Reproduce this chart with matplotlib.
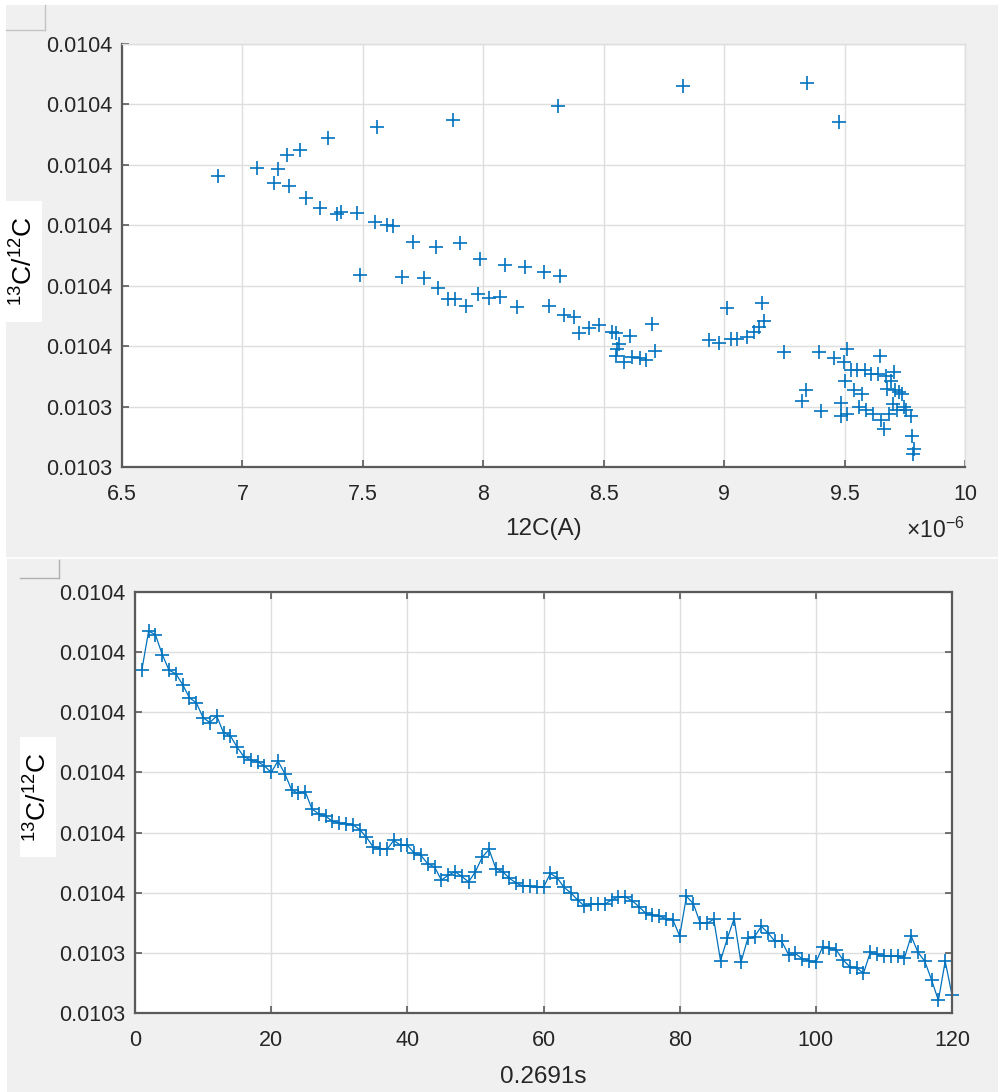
import numpy as np
import matplotlib
matplotlib.use("Agg")
import matplotlib.pyplot as plt
from matplotlib.lines import Line2D
from matplotlib.patches import Rectangle

plt.rcParams['font.family'] = ['Liberation Sans', 'DejaVu Sans']
plt.rcParams['mathtext.fontset'] = 'custom'
plt.rcParams['mathtext.rm'] = 'Liberation Sans'
plt.rcParams['mathtext.it'] = 'Liberation Sans:italic'
plt.rcParams['mathtext.bf'] = 'Liberation Sans:bold'

# ---------------- data ----------------
# top panel: 12C current (x1e-6 A) vs 13C/12C ratio
c12_current = [
    6.900, 7.062, 7.146, 7.132, 7.183, 7.238, 7.194, 7.356, 7.266, 7.322,
    7.391, 7.409, 7.474, 7.560, 7.550, 7.599, 7.627, 7.488, 7.707, 7.804,
    7.904, 7.876, 7.661, 7.755, 7.811, 7.855, 7.883, 7.929, 7.987, 7.977,
    8.022, 8.070, 8.091, 8.139, 8.174, 8.253, 8.320, 8.271, 8.334, 8.375,
    8.310, 8.396, 8.437, 8.479, 8.828, 9.345, 9.477, 8.535, 8.549, 8.562,
    8.555, 8.553, 8.583, 8.611, 8.618, 8.652, 8.677, 8.701, 8.715, 8.937,
    8.978, 9.010, 9.027, 9.054, 9.096, 9.124, 9.144, 9.158, 9.165, 9.248,
    9.339, 9.325, 9.394, 9.401, 9.456, 9.484, 9.484, 9.498, 9.509, 9.501,
    9.512, 9.526, 9.540, 9.553, 9.560, 9.574, 9.584, 9.588, 9.609, 9.616,
    9.637, 9.648, 9.650, 9.664, 9.671, 9.678, 9.685, 9.692, 9.699, 9.706,
    9.709, 9.717, 9.727, 9.740, 9.747, 9.754, 9.775, 9.778, 9.789, 9.786,
]
ratio_vs_current = [
    0.0103781, 0.0103795, 0.0103793, 0.0103770, 0.0103816, 0.0103825, 0.0103765, 0.0103845, 0.0103745, 0.0103728,
    0.0103719, 0.0103722, 0.0103721, 0.0103863, 0.0103706, 0.0103700, 0.0103699, 0.0103617, 0.0103673, 0.0103664,
    0.0103670, 0.0103874, 0.0103614, 0.0103612, 0.0103597, 0.0103578, 0.0103578, 0.0103566, 0.0103644, 0.0103587,
    0.0103579, 0.0103581, 0.0103634, 0.0103565, 0.0103631, 0.0103623, 0.0103616, 0.0103567, 0.0103551, 0.0103549,
    0.0103898, 0.0103522, 0.0103530, 0.0103535, 0.0103930, 0.0103936, 0.0103871, 0.0103523, 0.0103521, 0.0103504,
    0.0103495, 0.0103483, 0.0103473, 0.0103517, 0.0103482, 0.0103480, 0.0103477, 0.0103537, 0.0103492, 0.0103510,
    0.0103506, 0.0103563, 0.0103512, 0.0103512, 0.0103515, 0.0103523, 0.0103532, 0.0103571, 0.0103542, 0.0103490,
    0.0103427, 0.0103409, 0.0103490, 0.0103392, 0.0103480, 0.0103406, 0.0103384, 0.0103473, 0.0103495, 0.0103443,
    0.0103388, 0.0103460, 0.0103427, 0.0103461, 0.0103399, 0.0103421, 0.0103461, 0.0103394, 0.0103454, 0.0103388,
    0.0103454, 0.0103483, 0.0103377, 0.0103363, 0.0103451, 0.0103429, 0.0103388, 0.0103443, 0.0103405, 0.0103457,
    0.0103427, 0.0103394, 0.0103424, 0.0103421, 0.0103399, 0.0103394, 0.0103385, 0.0103352, 0.0103329, 0.0103322,
]

# bottom panel: ratio vs cycle index (0.2691 s per cycle)
cycle_index = list(range(1, 121))
ratio_vs_time = [
    0.0103870, 0.0103935, 0.0103929, 0.0103896, 0.0103870, 0.0103864, 0.0103846, 0.0103824, 0.0103816, 0.0103791,
    0.0103783, 0.0103794, 0.0103766, 0.0103761, 0.0103742, 0.0103726, 0.0103721, 0.0103718, 0.0103711, 0.0103700,
    0.0103719, 0.0103698, 0.0103671, 0.0103665, 0.0103668, 0.0103639, 0.0103631, 0.0103627, 0.0103619, 0.0103616,
    0.0103615, 0.0103613, 0.0103605, 0.0103592, 0.0103576, 0.0103573, 0.0103572, 0.0103587, 0.0103579, 0.0103579,
    0.0103566, 0.0103562, 0.0103548, 0.0103543, 0.0103521, 0.0103529, 0.0103535, 0.0103527, 0.0103518, 0.0103535,
    0.0103559, 0.0103572, 0.0103540, 0.0103535, 0.0103524, 0.0103516, 0.0103511, 0.0103511, 0.0103509, 0.0103509,
    0.0103532, 0.0103525, 0.0103509, 0.0103500, 0.0103488, 0.0103478, 0.0103481, 0.0103481, 0.0103481, 0.0103488,
    0.0103493, 0.0103493, 0.0103487, 0.0103477, 0.0103466, 0.0103463, 0.0103461, 0.0103457, 0.0103455, 0.0103428,
    0.0103494, 0.0103482, 0.0103450, 0.0103449, 0.0103456, 0.0103387, 0.0103424, 0.0103457, 0.0103384, 0.0103424,
    0.0103427, 0.0103444, 0.0103433, 0.0103419, 0.0103419, 0.0103397, 0.0103399, 0.0103390, 0.0103387, 0.0103384,
    0.0103410, 0.0103408, 0.0103405, 0.0103388, 0.0103377, 0.0103375, 0.0103366, 0.0103401, 0.0103398, 0.0103394,
    0.0103395, 0.0103395, 0.0103391, 0.0103428, 0.0103401, 0.0103386, 0.0103355, 0.0103321, 0.0103386, 0.0103330,
]

y_ticks = [0.01033, 0.01034, 0.01035, 0.01036, 0.01037, 0.01038, 0.01039, 0.01040]
y_tick_labels = ['0.0103', '0.0103', '0.0104', '0.0104', '0.0104', '0.0104', '0.0104', '0.0104']
x1_ticks = [6.5, 7, 7.5, 8, 8.5, 9, 9.5, 10]
x1_tick_labels = ['6.5', '7', '7.5', '8', '8.5', '9', '9.5', '10']
x2_ticks = [0, 20, 40, 60, 80, 100, 120]
x2_tick_labels = ['0', '20', '40', '60', '80', '100', '120']

# ---------------- figure ----------------
W, H = 998, 1092
fig = plt.figure(figsize=(W / 100, H / 100), dpi=100, facecolor='#f0f0f0')


def fx(px):
    return px / W


def fy(py):
    return 1 - py / H


def rect_px(x0, y0, x1, y1, color, z=0):
    fig.add_artist(Rectangle((fx(x0), fy(y1)), fx(x1) - fx(x0), fy(y0) - fy(y1),
                             transform=fig.transFigure, facecolor=color,
                             edgecolor='none', zorder=z))


def line_px(xs, ys, color, lw=1.0):
    fig.add_artist(Line2D([fx(v) for v in xs], [fy(v) for v in ys],
                          transform=fig.transFigure, color=color, lw=lw))


# window chrome
rect_px(0, 0, W, 5, 'white')
rect_px(0, 0, 6, 558, 'white')
rect_px(0, 558, 7, H, 'white')
line_px([0, W], [558, 558], 'white', 1.2)
line_px([45, 45], [5, 30], '#c4c4c4', 1.0)
line_px([6, 45], [30, 30], '#c4c4c4', 1.0)
line_px([59, 59], [560, 578], '#b0b0b0', 1.0)
line_px([20, 59], [578, 578], '#b0b0b0', 1.0)

ax1 = fig.add_axes([fx(122), fy(467), fx(965) - fx(122), fy(44) - fy(467)])
ax2 = fig.add_axes([fx(135), fy(1013), fx(952) - fx(135), fy(592) - fy(1013)])

blue = '#0072BD'
spine_c = '#5a5a5a'
grid_c = '#dedede'
label_c = '#262626'
tick_fs = 15.5
label_fs = 17.5


def style(ax, box):
    ax.set_facecolor('white')
    ax.set_ylim(y_ticks[0], y_ticks[-1])
    ax.set_yticks(y_ticks)
    ax.set_yticklabels(y_tick_labels)
    ax.grid(True, color=grid_c, lw=1.0)
    ax.set_axisbelow(True)
    for s in ['left', 'bottom']:
        ax.spines[s].set_color(spine_c)
        ax.spines[s].set_linewidth(1.6)
    for s in ['top', 'right']:
        if box:
            ax.spines[s].set_color(spine_c)
            ax.spines[s].set_linewidth(1.6)
        else:
            ax.spines[s].set_color(grid_c)
            ax.spines[s].set_linewidth(1.0)
    ax.tick_params(direction='in', length=5, width=1.2, color=spine_c,
                   labelsize=tick_fs, labelcolor=label_c,
                   top=box, right=box)
    ax.tick_params(axis='x', pad=12)
    ax.tick_params(axis='y', pad=7)


# top panel
ax1.plot(c12_current, ratio_vs_current, linestyle='none', marker='+',
         color=blue, markersize=10.5, markeredgewidth=1.2)
ax1.set_xlim(x1_ticks[0], x1_ticks[-1])
ax1.set_xticks(x1_ticks)
ax1.set_xticklabels(x1_tick_labels)
style(ax1, box=False)
ax1.set_xlabel('12C(A)', fontsize=label_fs, color=label_c)
ax1.xaxis.set_label_coords(0.5, (467 - 518) / 423)
ax1.xaxis.label.set_va('top')
fig.text(fx(965), fy(538), r'$\times\mathregular{10^{-6}}$', fontsize=tick_fs + 1,
         color=label_c, ha='right', va='baseline')

# bottom panel
ax2.plot(cycle_index, ratio_vs_time, linestyle='-', linewidth=0.9, marker='+',
         color=blue, markersize=10.5, markeredgewidth=1.2, clip_on=False)
ax2.set_xlim(x2_ticks[0], x2_ticks[-1])
ax2.set_xticks(x2_ticks)
ax2.set_xticklabels(x2_tick_labels)
style(ax2, box=True)
ax2.set_xlabel('0.2691s', fontsize=label_fs, color=label_c)
ax2.xaxis.set_label_coords(0.5, (1013 - 1066) / 421)
ax2.xaxis.label.set_va('top')

# y labels with white boxes
rect_px(6, 201, 42, 322, 'white', z=1)
rect_px(20, 737, 56, 857, 'white', z=1)
ylab = r'$\mathregular{^{13}}$C/$\mathregular{^{12}}$C'
fig.text(fx(24), fy(261), ylab, rotation=90, ha='center', va='center',
         fontsize=label_fs + 1.5, color='black', zorder=2)
fig.text(fx(38), fy(797), ylab, rotation=90, ha='center', va='center',
         fontsize=label_fs + 1.5, color='black', zorder=2)

fig.savefig('out.png', dpi=100, facecolor=fig.get_facecolor())
